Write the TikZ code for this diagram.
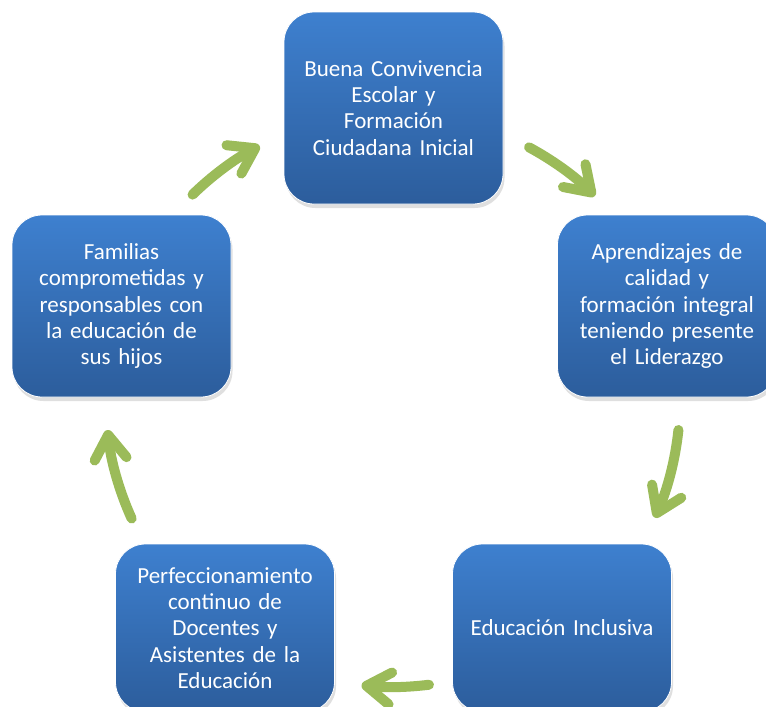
\documentclass[tikz,border=0pt]{standalone}
\usepackage{fontspec}
\setmainfont{Carlito}
\usetikzlibrary{arrows.meta,shadows,calc}
\definecolor{boxtop}{RGB}{62,128,207}
\definecolor{boxbot}{RGB}{44,93,156}
\definecolor{arrowgreen}{RGB}{155,187,89}
\tikzset{
  cyclebox/.style={rounded corners=30pt, top color=boxtop, bottom color=boxbot,
    draw=white, line width=0.8pt, text=white, align=center,
    minimum width=219pt, text width=215pt, inner sep=0pt,
    font=\fontsize{23}{26.3}\selectfont,
    drop shadow={opacity=0.25, shadow xshift=1.5pt, shadow yshift=-4pt}},
  cyclearrow/.style={draw=arrowgreen, line width=10pt, line cap=round,
    -{Straight Barb[round,length=24pt,width=32pt]}}
}
\begin{document}
\begin{tikzpicture}[x=1pt,y=-1pt]
\clip (0,0) rectangle (766,707);
\fill[white] (0,0) rectangle (766,707);

\node[cyclebox, minimum height=192pt] (top) at (393.5,108)
  {Buena Convivencia\\Escolar y\\Formación\\Ciudadana Inicial};
\node[cyclebox, minimum height=182pt] (right) at (667,306)
  {Aprendizajes de\\calidad y\\formación integral\\teniendo presente\\el Liderazgo};
\node[cyclebox, minimum height=168pt] (bright) at (562,628)
  {Educación Inclusiva};
\node[cyclebox, minimum height=168pt] (bleft) at (225,628)
  {Perfeccionamiento\\continuo de\\Docentes y\\Asistentes de la\\Educación};
\node[cyclebox, minimum height=182pt] (left) at (121.5,306)
  {Familias\\comprometidas y\\responsables con\\la educación de\\sus hijos};

\coordinate (c) at (393,400);
\coordinate (a1) at ($(c)+(-134.3:287)$);
\coordinate (a2) at ($(c)+(-61.7:287)$);
\coordinate (a3) at ($(c)+(6.0:287)$);
\coordinate (a4) at ($(c)+(82.8:287)$);
\coordinate (a5) at ($(c)+(155.6:287)$);

\draw[cyclearrow] (a1) arc[start angle=-134.3, end angle=-117.7, radius=287];
\draw[cyclearrow] (a2) arc[start angle=-61.7, end angle=-45.3, radius=287];
\draw[cyclearrow] (a3) arc[start angle=6.0, end angle=24.2, radius=287];
\draw[cyclearrow] (a4) arc[start angle=82.8, end angle=96.3, radius=287];
\draw[cyclearrow] (a5) arc[start angle=155.6, end angle=174.0, radius=287];
\end{tikzpicture}
\end{document}
